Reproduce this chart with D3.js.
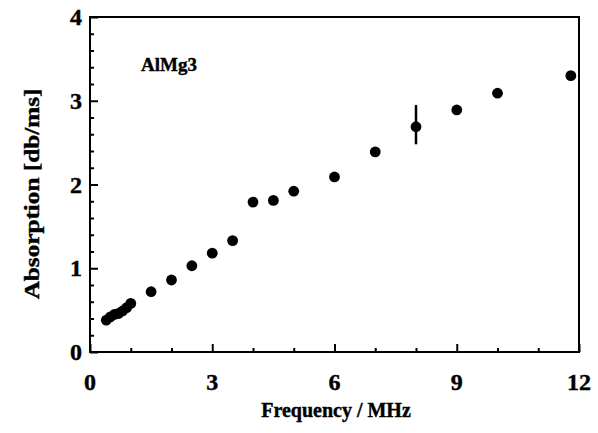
<!DOCTYPE html>
<html><head><meta charset="utf-8">
<script src="https://cdn.jsdelivr.net/npm/d3@7"></script>
<style>body{margin:0;background:#fff}svg{display:block}text{font-family:"Liberation Serif","Times New Roman",serif;font-weight:bold;fill:#000;stroke:#000;stroke-width:0.4}</style>
</head><body><svg id="c" width="598" height="433"></svg>
<script>
const freq = [0.4,0.5,0.6,0.7,0.8,0.9,1.0,1.5,2.0,2.5,3.0,3.5,4.0,4.5,5.0,6.0,7.0,8.0,9.0,10.0,11.8];
const absorption = [0.38,0.42,0.45,0.46,0.49,0.53,0.58,0.72,0.86,1.03,1.18,1.33,1.79,1.81,1.92,2.09,2.39,2.69,2.89,3.09,3.30];
const errLow = [null,null,null,null,null,null,null,null,null,null,null,null,null,null,null,null,null,2.48,null,null,null];
const errHigh = [null,null,null,null,null,null,null,null,null,null,null,null,null,null,null,null,null,2.95,null,null,null];
const xTicks = [0,3,6,9,12];
const yTicks = [0,1,2,3,4];
const label = "AlMg3";

const svg = d3.select("#c");
const L=90,R=579,T=17,B=352;
const x = d3.scaleLinear().domain([0,12]).range([L,R]);
const y = d3.scaleLinear().domain([0,4]).range([B,T]);

// frame
svg.append("rect").attr("x",L).attr("y",T).attr("width",R-L).attr("height",B-T)
  .attr("fill","none").attr("stroke","#000").attr("stroke-width",2);

// x axis ticks (inward)
const xa = svg.append("g").attr("transform",`translate(0,${B})`)
  .call(d3.axisBottom(x).tickValues(d3.range(0,13,1)).tickSize(-4).tickFormat(""));
xa.select(".domain").remove();
xa.selectAll(".tick line").attr("stroke-width",2).attr("y2",d=>d%3===0?-8:-4);
svg.append("g").selectAll("text").data(xTicks).join("text")
  .attr("x",d=>x(d)).attr("y",390).attr("text-anchor","middle")
  .attr("font-size",24).text(d=>d);

// y axis ticks
const ya = svg.append("g").attr("transform",`translate(${L},0)`)
  .call(d3.axisLeft(y).tickValues(d3.range(0,4.01,0.2)).tickSize(-4).tickFormat(""));
ya.select(".domain").remove();
ya.selectAll(".tick line").attr("stroke-width",2).attr("x2",d=>Math.abs(d-Math.round(d))<1e-6?8:4);
svg.append("g").selectAll("text").data(yTicks).join("text")
  .attr("x",82).attr("y",d=>y(d)+8).attr("text-anchor","end")
  .attr("font-size",24).text(d=>d);

// axis titles
svg.append("text").attr("x",336).attr("y",417).attr("text-anchor","middle")
  .attr("font-size",20).text("Frequency / MHz");
svg.append("text").attr("transform","translate(39,194) rotate(-90) scale(1.2,1)").attr("text-anchor","middle")
  .attr("font-size",21).text("Absorption [db/ms]");
svg.append("text").attr("x",141).attr("y",71).attr("font-size",19).text(label);

// error bars
const pts = freq.map((f,i)=>({f,a:absorption[i],lo:errLow[i],hi:errHigh[i]}));
svg.append("g").selectAll("line").data(pts.filter(p=>p.lo!=null)).join("line")
  .attr("x1",p=>x(p.f)).attr("x2",p=>x(p.f)).attr("y1",p=>y(p.lo)).attr("y2",p=>y(p.hi))
  .attr("stroke","#000").attr("stroke-width",2.5);
// points
svg.append("g").selectAll("circle").data(pts).join("circle")
  .attr("cx",p=>x(p.f)).attr("cy",p=>y(p.a)).attr("r",5.4).attr("fill","#000");
</script></body></html>
